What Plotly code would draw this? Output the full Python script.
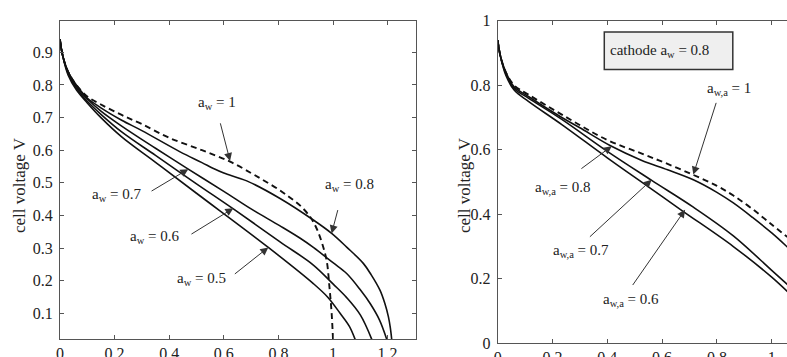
import plotly.graph_objects as go

# ---------------- data ----------------
# left panel: water activity a_w
L_x_aw1 = [0, 0.01, 0.03, 0.06, 0.1, 0.15, 0.226, 0.3, 0.4, 0.52, 0.623, 0.7, 0.745, 0.8, 0.842, 0.88, 0.916, 0.94, 0.96, 0.977, 0.987, 0.995, 1.0]
L_y_aw1 = [0.94, 0.89, 0.84, 0.80, 0.765, 0.74, 0.708, 0.68, 0.638, 0.600, 0.565, 0.53, 0.508, 0.48, 0.455, 0.43, 0.396, 0.36, 0.315, 0.26, 0.18, 0.1, 0.02]

L_x_aw08 = [0, 0.01, 0.03, 0.06, 0.1, 0.15, 0.226, 0.3, 0.44, 0.52, 0.562, 0.6, 0.684, 0.806, 0.928, 0.995, 1.05, 1.111, 1.14, 1.172, 1.19, 1.203, 1.21, 1.215]
L_y_aw08 = [0.94, 0.89, 0.84, 0.80, 0.76, 0.73, 0.692, 0.66, 0.595, 0.562, 0.544, 0.53, 0.506, 0.452, 0.386, 0.345, 0.303, 0.253, 0.218, 0.171, 0.13, 0.089, 0.055, 0.02]

L_x_aw07 = [0, 0.01, 0.03, 0.06, 0.1, 0.15, 0.226, 0.35, 0.464, 0.6, 0.7, 0.806, 0.88, 0.928, 1.0, 1.05, 1.1, 1.136, 1.17, 1.197]
L_y_aw07 = [0.94, 0.89, 0.84, 0.795, 0.757, 0.72, 0.674, 0.606, 0.545, 0.474, 0.42, 0.368, 0.33, 0.302, 0.255, 0.222, 0.172, 0.13, 0.08, 0.02]

L_x_aw06 = [0, 0.01, 0.03, 0.06, 0.1, 0.15, 0.226, 0.35, 0.5, 0.635, 0.806, 0.928, 1.0, 1.05, 1.1, 1.142]
L_y_aw06 = [0.94, 0.89, 0.835, 0.79, 0.75, 0.71, 0.656, 0.584, 0.497, 0.42, 0.319, 0.248, 0.19, 0.148, 0.095, 0.02]

L_x_aw05 = [0, 0.01, 0.03, 0.06, 0.1, 0.15, 0.226, 0.35, 0.5, 0.763, 0.928, 0.98, 1.026, 1.06, 1.081]
L_y_aw05 = [0.94, 0.89, 0.83, 0.785, 0.745, 0.70, 0.641, 0.563, 0.468, 0.302, 0.191, 0.15, 0.1, 0.06, 0.02]

# right panel: cathode a_w = 0.8, anode a_w,a varied
R_x_awa1 = [0, 0.01, 0.03, 0.06, 0.112, 0.234, 0.398, 0.526, 0.62, 0.714, 0.8, 0.86, 0.93, 1.0, 1.06]
R_y_awa1 = [0.94, 0.89, 0.84, 0.80, 0.771, 0.709, 0.631, 0.588, 0.556, 0.522, 0.488, 0.458, 0.416, 0.368, 0.328]

R_x_awa08 = [0, 0.01, 0.03, 0.06, 0.112, 0.234, 0.3, 0.41, 0.526, 0.62, 0.714, 0.8, 0.86, 0.93, 1.0, 1.06]
R_y_awa08 = [0.94, 0.89, 0.84, 0.795, 0.765, 0.700, 0.668, 0.613, 0.567, 0.538, 0.507, 0.468, 0.435, 0.39, 0.342, 0.296]

R_x_awa07 = [0, 0.01, 0.03, 0.06, 0.112, 0.234, 0.4, 0.562, 0.714, 0.86, 1.0, 1.06]
R_y_awa07 = [0.94, 0.89, 0.835, 0.79, 0.76, 0.694, 0.595, 0.505, 0.422, 0.333, 0.226, 0.18]

R_x_awa06 = [0, 0.01, 0.03, 0.06, 0.112, 0.234, 0.4, 0.55, 0.675, 0.86, 1.0, 1.06]
R_y_awa06 = [0.94, 0.89, 0.83, 0.785, 0.75, 0.678, 0.575, 0.485, 0.41, 0.3, 0.205, 0.158]

L_xticks = [0, 0.2, 0.4, 0.6, 0.8, 1.0, 1.2]
L_xticklabels = ["0", "0.2", "0.4", "0.6", "0.8", "1", "1.2"]
L_yticks = [0.1, 0.2, 0.3, 0.4, 0.5, 0.6, 0.7, 0.8, 0.9]
L_yticklabels = ["0.1", "0.2", "0.3", "0.4", "0.5", "0.6", "0.7", "0.8", "0.9"]
R_xticks = [0, 0.2, 0.4, 0.6, 0.8, 1.0]
R_xticklabels = ["0", "0.2", "0.4", "0.6", "0.8", "1"]
R_yticks = [0, 0.2, 0.4, 0.6, 0.8, 1.0]
R_yticklabels = ["0", "0.2", "0.4", "0.6", "0.8", "1"]

# annotation labels: (text, text x, text y, arrow tail x, tail y, head x, head y)
L_labels = [
    ("a<sub>w</sub> = 1", 0.574, 0.745, 0.586, 0.687, 0.623, 0.567),
    ("a<sub>w</sub> = 0.7", 0.208, 0.462, 0.33, 0.472, 0.47, 0.542),
    ("a<sub>w</sub> = 0.6", 0.348, 0.334, 0.476, 0.34, 0.635, 0.422),
    ("a<sub>w</sub> = 0.5", 0.519, 0.204, 0.635, 0.217, 0.763, 0.302),
    ("a<sub>w</sub> = 0.8", 1.062, 0.493, 1.019, 0.421, 0.995, 0.345),
]
R_labels = [
    ("a<sub>w,a</sub> = 1", 0.845, 0.787, 0.799, 0.75, 0.714, 0.523),
    ("a<sub>w,a</sub> = 0.8", 0.237, 0.481, 0.30, 0.538, 0.416, 0.611),
    ("a<sub>w,a</sub> = 0.7", 0.303, 0.285, 0.331, 0.326, 0.562, 0.507),
    ("a<sub>w,a</sub> = 0.6", 0.486, 0.134, 0.489, 0.176, 0.684, 0.414),
]
box_text = "cathode a<sub>w</sub> = 0.8"

# ---------------- figure ----------------
FONT = "Liberation Serif"
fig = go.Figure()

solid = dict(color="#111", width=1.6)
dashed = dict(color="#111", width=1.9, dash="6px,4px")

for xs, ys, ln in [(L_x_aw1, L_y_aw1, dashed), (L_x_aw08, L_y_aw08, solid),
                   (L_x_aw07, L_y_aw07, solid), (L_x_aw06, L_y_aw06, solid),
                   (L_x_aw05, L_y_aw05, solid)]:
    fig.add_trace(go.Scatter(x=xs, y=ys, mode="lines", line=dict(shape="spline", smoothing=1.0, **ln),
                             xaxis="x", yaxis="y", showlegend=False, hoverinfo="skip"))

for xs, ys, ln in [(R_x_awa1, R_y_awa1, dashed), (R_x_awa08, R_y_awa08, solid),
                   (R_x_awa07, R_y_awa07, solid), (R_x_awa06, R_y_awa06, solid)]:
    fig.add_trace(go.Scatter(x=xs, y=ys, mode="lines", line=dict(shape="spline", smoothing=1.0, **ln),
                             xaxis="x2", yaxis="y2", showlegend=False, hoverinfo="skip"))

axis_common = dict(showgrid=False, zeroline=False, showline=True, linecolor="#555", linewidth=1,
                   ticks="inside", ticklen=4, tickcolor="#555", automargin=False,
                   tickfont=dict(family=FONT, size=16, color="#222"))

fig.update_layout(
    width=787, height=357, margin=dict(l=0, r=0, t=0, b=0),
    paper_bgcolor="white", plot_bgcolor="white", template="none",
    font=dict(family=FONT),
    xaxis=dict(domain=[0.0762, 0.5286], range=[0, 1.304], tickvals=L_xticks, ticktext=L_xticklabels,
               mirror="ticks", anchor="y", **axis_common),
    yaxis=dict(domain=[0.0496, 0.942], range=[0.0203, 0.997], tickvals=L_yticks, ticktext=L_yticklabels,
               mirror="ticks", anchor="x", ticklabelstandoff=3, **axis_common),
    xaxis2=dict(domain=[0.6324, 1.0], range=[0, 1.0558], tickvals=R_xticks, ticktext=R_xticklabels,
                mirror="ticks", anchor="y2", **axis_common),
    yaxis2=dict(domain=[0.0384, 0.942], range=[0, 1.0], tickvals=R_yticks, ticktext=R_yticklabels,
                mirror=False, anchor="x2", ticklabelstandoff=3, **axis_common),
)

annotations = []
for (txt, tx, ty, ax, ay, hx, hy), (xr, yr) in [(l, ("x", "y")) for l in L_labels] + [(r, ("x2", "y2")) for r in R_labels]:
    annotations.append(dict(x=hx, y=hy, ax=ax, ay=ay, xref=xr, yref=yr, axref=xr, ayref=yr,
                            text="", showarrow=True, arrowhead=2, arrowsize=1.6, arrowwidth=1,
                            arrowcolor="#333", standoff=0, startstandoff=0))
    annotations.append(dict(x=tx, y=ty, xref=xr, yref=yr, text=txt, showarrow=False,
                            xanchor="center", yanchor="middle",
                            font=dict(family=FONT, size=15, color="#222")))

annotations.append(dict(x=(659 - 497.7) / 274, y=0.905, xref="x2", yref="y2", text=box_text,
                        showarrow=False, xanchor="center", yanchor="middle",
                        font=dict(family=FONT, size=15, color="#222")))

for xp in [20 / 787, 465 / 787]:
    annotations.append(dict(x=xp, y=(357 - 185) / 357, xref="paper", yref="paper", text="cell voltage V",
                            textangle=-90, showarrow=False, xanchor="center", yanchor="middle",
                            font=dict(family=FONT, size=17, color="#222")))

fig.update_layout(annotations=annotations)
fig.add_shape(type="rect", xref="x2", yref="y2", x0=0.389, x1=0.858, y0=0.849, y1=0.965,
              fillcolor="#efefef", line=dict(color="#333", width=1.5), layer="below")

fig.write_html("out.html")
